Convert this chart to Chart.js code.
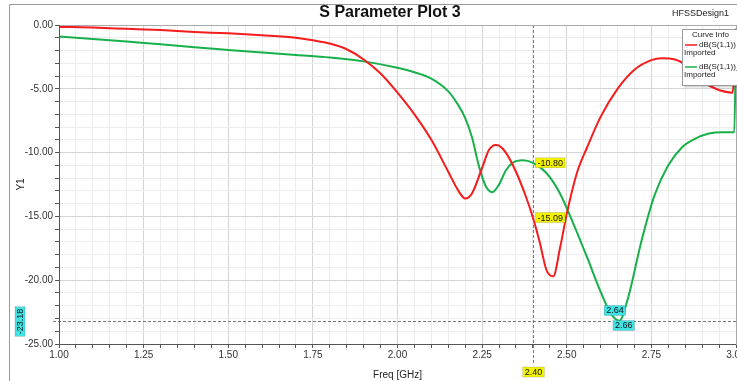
<!DOCTYPE html>
<html>
<head>
<meta charset="utf-8">
<script src="https://cdn.jsdelivr.net/npm/chart.js@4.4.1/dist/chart.umd.min.js"></script>
<style>
  html, body { margin: 0; padding: 0; background: #fff; overflow: hidden; }
  #wrap { position: relative; width: 737px; height: 381px; overflow: hidden; }
  #box { position: absolute; left: 0; top: 0; width: 780px; height: 381px; }
</style>
</head>
<body>
<div id="wrap"><div id="box"><canvas id="chart"></canvas></div></div>
<script>
// === Data ===
const freqRed = [1.00,1.10,1.20,1.30,1.40,1.50,1.60,1.70,1.75,1.80,1.85,1.90,1.95,2.00,2.05,2.10,2.15,2.18,2.20,2.22,2.25,2.27,2.29,2.30,2.32,2.35,2.38,2.40,2.42,2.44,2.46,2.48,2.50,2.53,2.56,2.60,2.65,2.70,2.75,2.78,2.82,2.86,2.90,2.94,2.99,3.00];
const dbRed   = [-0.15,-0.2,-0.3,-0.4,-0.55,-0.65,-0.8,-1.0,-1.2,-1.45,-1.9,-2.7,-3.8,-5.3,-7.0,-9.0,-11.5,-13.0,-13.6,-13.2,-11.2,-9.8,-9.4,-9.45,-10.0,-11.5,-13.5,-15.09,-17.0,-19.2,-19.7,-17.5,-14.8,-11.6,-9.6,-7.2,-5.0,-3.5,-2.75,-2.6,-2.7,-3.3,-4.4,-5.0,-5.3,-0.3];

const freqGreen = [1.00,1.10,1.20,1.30,1.40,1.50,1.60,1.70,1.80,1.90,2.00,2.05,2.10,2.15,2.18,2.20,2.22,2.24,2.26,2.28,2.30,2.32,2.34,2.37,2.40,2.44,2.48,2.52,2.56,2.60,2.63,2.655,2.68,2.72,2.76,2.80,2.84,2.88,2.92,2.96,2.995,3.00];
const dbGreen   = [-0.9,-1.1,-1.3,-1.5,-1.75,-1.95,-2.15,-2.35,-2.55,-2.85,-3.35,-3.7,-4.2,-5.2,-6.3,-7.3,-8.8,-11.0,-12.6,-13.1,-12.5,-11.4,-10.8,-10.6,-10.80,-11.6,-13.2,-15.6,-18.2,-20.9,-22.6,-23.18,-21.5,-17.0,-13.3,-11.0,-9.6,-8.9,-8.5,-8.4,-8.4,-0.3];

const seriesNames = ["dB(S(1,1))", "dB(S(1,1))_1"];
const xTicks = [1.00, 1.25, 1.50, 1.75, 2.00, 2.25, 2.50, 2.75, 3.00];
const yTicks = [0, -5, -10, -15, -20, -25];

// marker readouts
const markerX = 2.40;
const markerXLabels = [-10.80, -15.09];   // values on the 2.40 line
const markerY = -23.18;
const markerYLabels = [2.64, 2.66];       // frequencies on the -23.18 line

const RED = "#f41c1c";
const GREEN = "#17b04a";
const FONT = "'Liberation Sans', Arial, sans-serif";

function pts(xs, ys){ return xs.map((x,i)=>({x, y: ys[i]})); }
const near = (v, list) => list.some(t => Math.abs(t - v) < 1e-6);

// small coloured readout box
function tag(ctx, text, x, y, bg, align){
  ctx.font = "9px " + FONT;
  const w = ctx.measureText(text).width + 4, h = 10;
  let left = align === "center" ? x - w/2 : x;
  ctx.fillStyle = bg;
  ctx.fillRect(left, y - h/2, w, h);
  ctx.strokeStyle = "rgba(0,0,0,0.25)";
  ctx.lineWidth = 0.5;
  ctx.strokeRect(left, y - h/2, w, h);
  ctx.fillStyle = "#111";
  ctx.textAlign = "left";
  ctx.textBaseline = "middle";
  ctx.fillText(text, left + 2, y + 0.5);
}

const markers = {
  id: "markers",
  afterDatasetsDraw(chart){
    const {ctx, chartArea: a, scales:{x, y}} = chart;
    ctx.save();
    ctx.setLineDash([3,2]);
    ctx.strokeStyle = "#777";
    ctx.lineWidth = 1;
    const mx = Math.round(x.getPixelForValue(markerX)) + 0.5;
    ctx.beginPath(); ctx.moveTo(mx, a.top); ctx.lineTo(mx, a.bottom + 20); ctx.stroke();
    const my = Math.round(y.getPixelForValue(markerY)) + 0.5;
    ctx.beginPath(); ctx.moveTo(a.left - 6, my); ctx.lineTo(a.right, my); ctx.stroke();
    ctx.setLineDash([]);

    markerXLabels.forEach(v=>{
      tag(ctx, v.toFixed(2), mx + 2, y.getPixelForValue(v), "#f2f200", "left");
    });
    tag(ctx, markerX.toFixed(2), mx, a.bottom + 28, "#f2f200", "center");

    tag(ctx, markerYLabels[0].toFixed(2), x.getPixelForValue(markerYLabels[0]) - 10, my - 11, "#3fe3e3", "left");
    tag(ctx, markerYLabels[1].toFixed(2), x.getPixelForValue(markerYLabels[1]) - 8, my + 4, "#3fe3e3", "left");

    // rotated -23.18 on the left
    ctx.save();
    ctx.translate(20, my);
    ctx.rotate(-Math.PI/2);
    tag(ctx, markerY.toFixed(2), 0, 0, "#3fe3e3", "center");
    ctx.restore();
    ctx.restore();
  }
};

const extras = {
  id: "extras",
  beforeDraw(chart){
    const {ctx} = chart;
    ctx.save();
    ctx.fillStyle = "#fff";
    ctx.fillRect(0, 0, chart.width, chart.height);
    // outer frame
    ctx.strokeStyle = "#999";
    ctx.lineWidth = 1;
    ctx.beginPath();
    ctx.moveTo(9.5, chart.height); ctx.lineTo(9.5, 4.5); ctx.lineTo(chart.width, 4.5);
    ctx.stroke();
    ctx.restore();
  },
  afterDraw(chart){
    const {ctx, chartArea: a} = chart;
    ctx.save();
    // plot border + axes
    ctx.strokeStyle = "#aaa";
    ctx.lineWidth = 1;
    ctx.strokeRect(a.left + 0.5, a.top + 0.5, a.right - a.left, a.bottom - a.top);
    ctx.strokeStyle = "#555";
    ctx.beginPath();
    ctx.moveTo(a.left + 0.5, a.top); ctx.lineTo(a.left + 0.5, a.bottom + 0.5); ctx.lineTo(a.right, a.bottom + 0.5);
    ctx.stroke();

    // title
    ctx.font = "bold 16px " + FONT;
    ctx.fillStyle = "#111";
    ctx.textAlign = "center";
    ctx.textBaseline = "middle";
    ctx.fillText("S Parameter Plot 3", 390, 13);

    // y axis name
    ctx.save();
    ctx.translate(21, (a.top + a.bottom) / 2);
    ctx.rotate(-Math.PI/2);
    ctx.font = "10px " + FONT;
    ctx.fillStyle = "#222";
    ctx.fillText("Y1", 0, 0);
    ctx.restore();

    ctx.font = "9px " + FONT;
    ctx.fillStyle = "#222";
    ctx.textAlign = "left";
    ctx.fillText("HFSSDesign1", 672, 14);

    // curve info box
    const bx = 682.5, by = 29.5, bw = 70, bh = 56;
    ctx.fillStyle = "rgba(0,0,0,0.15)";
    ctx.fillRect(bx + 2, by + 2, bw, bh);
    ctx.fillStyle = "#fff";
    ctx.fillRect(bx, by, bw, bh);
    ctx.strokeStyle = "#999";
    ctx.strokeRect(bx, by, bw, bh);
    ctx.fillStyle = "#222";
    ctx.font = "8px " + FONT;
    ctx.fillText("Curve Info", 692, 35);
    [[RED, 45], [GREEN, 67]].forEach(([c, yy], i)=>{
      ctx.strokeStyle = c; ctx.lineWidth = 1.5;
      ctx.beginPath(); ctx.moveTo(685, yy); ctx.lineTo(697, yy); ctx.stroke();
      ctx.fillStyle = "#222";
      ctx.fillText(seriesNames[i], 699, yy);
      ctx.fillText("Imported", 684, yy + 8);
    });
    ctx.restore();
  }
};

new Chart(document.getElementById("chart"), {
  type: "line",
  data: {
    datasets: [
      { label: seriesNames[0], data: pts(freqRed, dbRed), borderColor: RED, borderWidth: 2, pointRadius: 0, cubicInterpolationMode: "monotone" },
      { label: seriesNames[1], data: pts(freqGreen, dbGreen), borderColor: GREEN, borderWidth: 2, pointRadius: 0, cubicInterpolationMode: "monotone" }
    ]
  },
  options: {
    responsive: true,
    maintainAspectRatio: false,
    animation: false,
    layout: { padding: { left: 0, right: 44, top: 25, bottom: 0 } },
    plugins: {
      legend: { display: false },
      tooltip: { enabled: false },
      title: { display: false }
    },
    scales: {
      x: {
        type: "linear", min: 1, max: 3,
        afterFit: s => { s.height = 37; },
        afterBuildTicks: s => { s.ticks = Array.from({length: 41}, (_, i) => ({ value: +(1 + i*0.05).toFixed(2) })); },
        ticks: {
          autoSkip: false, maxRotation: 0, color: "#333", padding: 1,
          font: { family: FONT, size: 10 },
          callback: v => near(v, xTicks) ? v.toFixed(2) : ""
        },
        grid: {
          color: c => near(c.tick.value, xTicks) ? "#d4d4d4" : "#ececec",
          tickColor: "#555", tickLength: 4
        },
        border: { display: false },
        title: { display: true, text: "Freq [GHz]", color: "#222", padding: 0,
          font: { family: FONT, size: 10 } }
      },
      y: {
        min: -25, max: 0,
        afterFit: s => { s.width = 59; },
        afterBuildTicks: s => { s.ticks = Array.from({length: 26}, (_, i) => ({ value: -i })); },
        ticks: {
          autoSkip: false, color: "#333", padding: 2,
          font: { family: FONT, size: 10 },
          callback: v => near(v, yTicks) ? v.toFixed(2) : ""
        },
        grid: {
          color: c => near(c.tick.value, yTicks) ? "#d4d4d4" : "#ececec",
          tickColor: "#555", tickLength: 4
        },
        border: { display: false }
      }
    }
  },
  plugins: [extras, markers]
});
</script>
</body>
</html>
